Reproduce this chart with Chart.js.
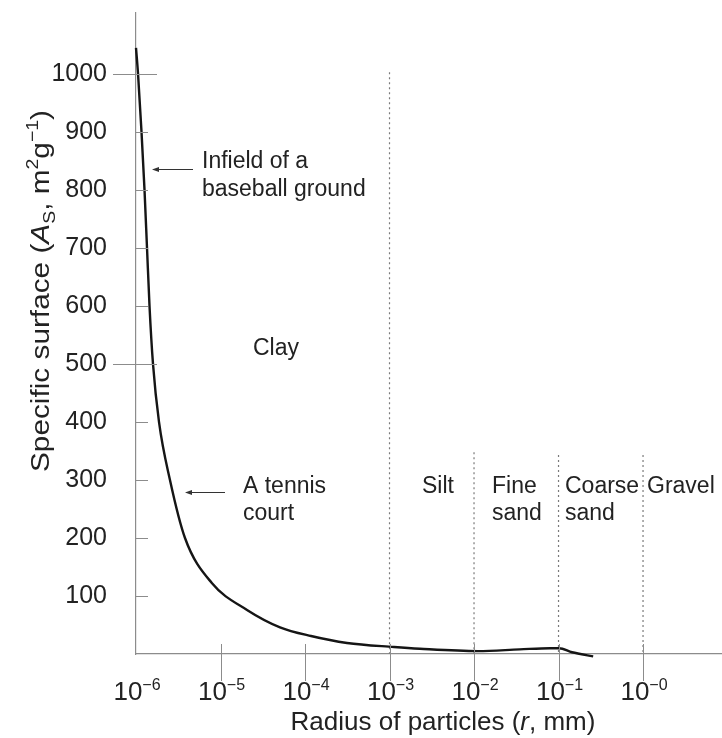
<!DOCTYPE html>
<html>
<head>
<meta charset="utf-8">
<script src="https://cdn.jsdelivr.net/npm/chart.js@4.4.1/dist/chart.umd.min.js"></script>
<style>
  html, body { margin: 0; padding: 0; background: #fff; }
  #wrap { width: 722px; height: 738px; position: relative; }
</style>
</head>
<body>
<div id="wrap"><canvas id="chart"></canvas></div>
<script>
// radius of particles (mm) and specific surface (m2/g)
const radius = [1e-6, 1.057e-6, 1.162e-6, 1.261e-6, 1.35e-6, 1.445e-6, 1.589e-6, 1.871e-6,
    2.523e-6, 3.80e-6, 7.94e-6, 2.06e-5, 5.06e-5, 1.178e-4, 3.14e-4, 1.13e-3, 2.29e-3,
    1.114e-2, 3.47e-2, 7.94e-2, 0.1014, 0.1445, 0.257];
const surface = [1045, 1000, 900, 800, 700, 600, 500, 400,
    300, 200, 122, 76, 46, 31, 19, 12, 9,
    5, 8, 10, 10, 3, -4];

// size class boundaries (dotted lines) and how high they go
const boundaryRadius = [1e-3, 1e-2, 1e-1, 1];
const boundaryTop = [1003, 348, 343, 343];

// x tick decades and their exponent labels
const xTickValues = [1e-6, 1e-5, 1e-4, 1e-3, 1e-2, 1e-1, 1];
const xTickExp = ['\u22126', '\u22125', '\u22124', '\u22123', '\u22122', '\u22121', '\u22120'];

// y ticks
const yTickValues = [100, 200, 300, 400, 500, 600, 700, 800, 900, 1000];
const yMajor = [500, 1000];

const FONT = "'Liberation Sans', Arial, Helvetica, sans-serif";
const axisGray = '#8c8c8c';
const textColor = '#222';

// labels inside the plot
const notes = [
    {t: 'Infield of a', x: 202, y: 168},
    {t: 'baseball ground', x: 202, y: 196},
    {t: 'Clay', x: 253, y: 355},
    {t: 'A tennis', x: 243, y: 493},
    {t: 'court', x: 243, y: 520},
    {t: 'Silt', x: 422, y: 493},
    {t: 'Fine', x: 492, y: 493},
    {t: 'sand', x: 492, y: 520},
    {t: 'Coarse', x: 565, y: 493},
    {t: 'sand', x: 565, y: 520},
    {t: 'Gravel', x: 647, y: 493}
];
const arrows = [
    {x1: 193, x2: 152, y: 169},
    {x1: 225, x2: 185, y: 492}
];

function setFont(ctx, size, italic){
    ctx.font = (italic ? 'italic ' : '') + size + 'px ' + FONT;
}

function partsWidth(ctx, parts){
    let w = 0;
    parts.forEach(function(p){
        setFont(ctx, p.s, p.i);
        w += ctx.measureText(p.t).width;
    });
    return w;
}

function drawParts(ctx, parts, x, y){
    let cx = x;
    parts.forEach(function(p){
        setFont(ctx, p.s, p.i);
        ctx.fillText(p.t, cx, y + (p.dy || 0));
        cx += ctx.measureText(p.t).width;
    });
}

const extras = {
    id: 'extras',
    afterDraw(chart){
        const ctx = chart.ctx;
        const xs = chart.scales.x;
        const ys = chart.scales.y;
        const x0 = xs.left;
        const yb = ys.bottom;
        ctx.save();

        // tick marks
        ctx.strokeStyle = axisGray;
        ctx.lineWidth = 1;
        ctx.beginPath();
        yTickValues.forEach(function(v){
            const py = Math.round(ys.getPixelForValue(v)) + 0.5;
            if (yMajor.includes(v)){
                ctx.moveTo(x0 - 23, py); ctx.lineTo(x0 + 21, py);
            } else {
                ctx.moveTo(x0, py); ctx.lineTo(x0 + 12, py);
            }
        });
        xTickValues.forEach(function(v, i){
            if (i === 0) return;
            const px = Math.round(xs.getPixelForValue(v)) + 0.5;
            ctx.moveTo(px, yb - 10); ctx.lineTo(px, yb + 27);
        });
        ctx.stroke();

        // x tick labels 10^n
        ctx.fillStyle = textColor;
        ctx.textBaseline = 'alphabetic';
        ctx.textAlign = 'left';
        xTickValues.forEach(function(v, i){
            const parts = [{t: '10', s: 26}, {t: xTickExp[i], s: 16, dy: -10}];
            const w = partsWidth(ctx, parts);
            const px = xs.getPixelForValue(v);
            drawParts(ctx, parts, px - w / 2 + 1, 700);
        });

        // x title
        const xt = [{t: 'Radius of particles (', s: 26}, {t: 'r', s: 26, i: true}, {t: ', mm)', s: 26}];
        drawParts(ctx, xt, 443 - partsWidth(ctx, xt) / 2, 730);

        // y title, rotated
        const yt = [{t: 'Specific surface (', s: 26}, {t: 'A', s: 26, i: true}, {t: 'S', s: 17, dy: 6},
            {t: ', m', s: 26}, {t: '2', s: 17, dy: -11}, {t: 'g', s: 26}, {t: '\u22121', s: 17, dy: -11},
            {t: ')', s: 26}];
        const yw = partsWidth(ctx, yt);
        ctx.save();
        ctx.translate(49, 291);
        ctx.rotate(-Math.PI / 2);
        ctx.scale(362 / yw, 1);
        drawParts(ctx, yt, -yw / 2, 0);
        ctx.restore();

        // notes
        setFont(ctx, 23);
        notes.forEach(function(n){ ctx.fillText(n.t, n.x, n.y); });

        // arrows
        ctx.strokeStyle = '#333';
        ctx.fillStyle = '#333';
        ctx.lineWidth = 1;
        arrows.forEach(function(a){
            ctx.beginPath();
            ctx.moveTo(a.x1, a.y + 0.5); ctx.lineTo(a.x2 + 4, a.y + 0.5);
            ctx.stroke();
            ctx.beginPath();
            ctx.moveTo(a.x2, a.y + 0.5);
            ctx.lineTo(a.x2 + 7, a.y - 2);
            ctx.lineTo(a.x2 + 7, a.y + 3);
            ctx.closePath();
            ctx.fill();
        });
        ctx.restore();
    }
};

const datasets = [{
    data: radius.map(function(r, i){ return {x: r, y: surface[i]}; }),
    borderColor: '#151515',
    borderWidth: 2.4,
    pointRadius: 0,
    cubicInterpolationMode: 'monotone',
    clip: false,
    order: 0
}];
boundaryRadius.forEach(function(r, i){
    datasets.push({
        data: [{x: r, y: boundaryTop[i]}, {x: r, y: 0}],
        borderColor: '#7a7a7a',
        borderWidth: 1.2,
        borderDash: [2, 3],
        pointRadius: 0,
        order: 1
    });
});

function noPad(s){
    s.paddingTop = 0;
    s.paddingBottom = 0;
    s.paddingLeft = 0;
    s.paddingRight = 0;
}

new Chart(document.getElementById('chart'), {
    type: 'line',
    data: {datasets: datasets},
    options: {
        responsive: true,
        maintainAspectRatio: false,
        animation: false,
        layout: {padding: {top: 13, right: 0, left: 0, bottom: 0}},
        plugins: {legend: {display: false}, tooltip: {enabled: false}},
        scales: {
            x: {
                type: 'logarithmic',
                min: 1e-6,
                max: 8.6,
                grid: {display: false, drawTicks: false},
                ticks: {display: false},
                border: {color: axisGray, width: 1.2},
                afterFit: function(s){ s.height = 84; noPad(s); }
            },
            y: {
                min: 0,
                max: 1105,
                grid: {display: false, drawTicks: false},
                border: {color: axisGray, width: 1.2},
                ticks: {
                    padding: 29,
                    color: textColor,
                    font: {family: FONT, size: 25},
                    callback: function(v){ return String(v); }
                },
                afterBuildTicks: function(s){
                    s.ticks = yTickValues.map(function(v){ return {value: v}; });
                },
                afterFit: function(s){ s.width = 136; noPad(s); }
            }
        }
    },
    plugins: [extras]
});
</script>
</body>
</html>
